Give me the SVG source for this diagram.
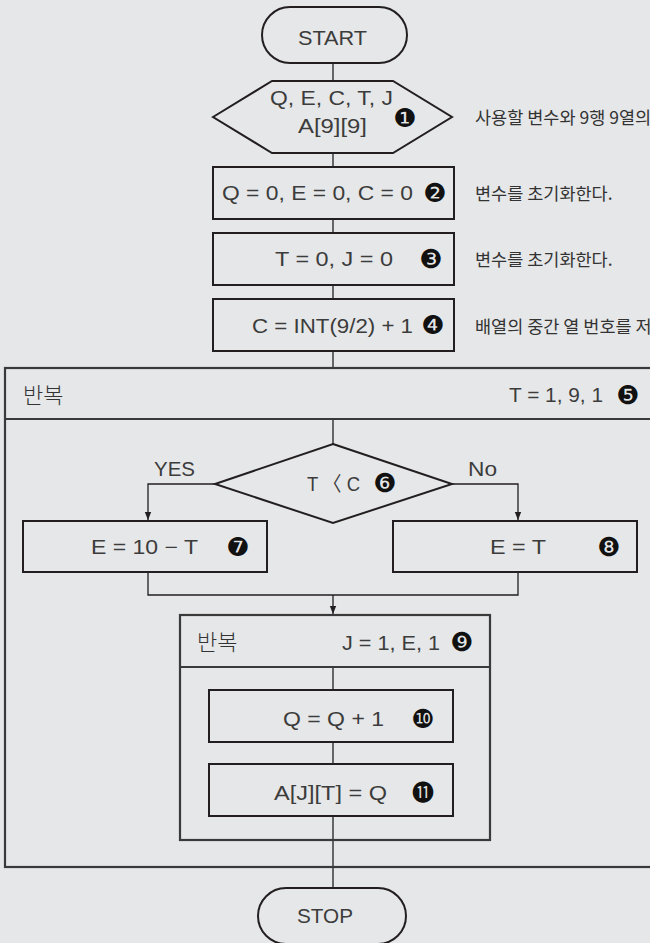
<svg xmlns="http://www.w3.org/2000/svg" width="650" height="943" viewBox="0 0 650 943">
<defs>
<marker id="ah" markerWidth="8" markerHeight="9" refX="8" refY="4" orient="auto" markerUnits="userSpaceOnUse" viewBox="0 0 8 8">
<path d="M0,0.8 L8,4 L0,7.2 Z" fill="#231f20"/>
</marker>
<style>
.bg{fill:#e6e7e8}
.box{fill:none;stroke:#231f20;stroke-width:2}
.loop{fill:none;stroke:#3a3a3a;stroke-width:2.2}
.con{fill:none;stroke:#231f20;stroke-width:1.3}
.t{font-family:"Liberation Sans","Noto Sans CJK KR",sans-serif;fill:#3c3c3c;font-size:20px}
.k{font-family:"Noto Sans CJK KR","Liberation Sans",sans-serif;fill:#333;font-size:22px;font-weight:300}
.note{font-family:"Noto Sans CJK KR","Liberation Sans",sans-serif;fill:#333;font-size:17.5px}
.n{font-family:"DejaVu Sans","Noto Sans CJK KR",sans-serif;fill:#111;font-size:26px;text-anchor:middle}
.n2{font-family:"DejaVu Sans","Noto Sans CJK KR",sans-serif;fill:#111;font-size:22px;text-anchor:middle}
</style>
</defs>
<rect class="bg" x="0" y="0" width="650" height="943"/>

<g id="connectors">
<line class="con" x1="333" y1="63" x2="333" y2="81"/>
<line class="con" x1="333" y1="153" x2="333" y2="167"/>
<line class="con" x1="333" y1="219" x2="333" y2="233"/>
<line class="con" x1="333" y1="285" x2="333" y2="299"/>
<line class="con" x1="333" y1="351" x2="333" y2="368"/>
<line class="con" x1="333" y1="419" x2="333" y2="444"/>
<polyline class="con" points="215,484 148,484 148,520" marker-end="url(#ah)"/>
<polyline class="con" points="452,484 518,484 518,520" marker-end="url(#ah)"/>
<polyline class="con" points="148,572 148,595 518,595 518,572"/>
<line class="con" x1="333" y1="595" x2="333" y2="614" marker-end="url(#ah)"/>
<line class="con" x1="333" y1="667" x2="333" y2="690"/>
<line class="con" x1="333" y1="742" x2="333" y2="764"/>
<line class="con" x1="333" y1="816" x2="333" y2="888"/>
</g>

<g id="start">
<rect class="box" x="262" y="7" width="145" height="56" rx="28" ry="28"/>
<text class="t" x="298" y="45" font-size="23" textLength="69" lengthAdjust="spacingAndGlyphs">START</text>
</g>

<g id="declare">
<polygon class="box" points="213,117 272,81 393,81 452,117 393,153 272,153"/>
<text class="t" x="270" y="105" font-size="21" textLength="123" lengthAdjust="spacingAndGlyphs">Q, E, C, T, J</text>
<text class="t" x="298" y="133" font-size="21" textLength="69" lengthAdjust="spacingAndGlyphs">A[9][9]</text>
<text class="n" x="405" y="127">❶</text>
<text class="note" x="475" y="124">사용할 변수와 9행 9열의</text>
</g>

<g id="init1">
<rect class="box" x="213" y="167" width="241" height="52"/>
<text class="t" x="222" y="200" textLength="191" lengthAdjust="spacingAndGlyphs">Q = 0, E = 0, C = 0</text>
<text class="n" x="435" y="202">❷</text>
<text class="note" x="475" y="200">변수를 초기화한다.</text>
</g>

<g id="init2">
<rect class="box" x="213" y="233" width="241" height="52"/>
<text class="t" x="275" y="266" textLength="118" lengthAdjust="spacingAndGlyphs">T = 0, J = 0</text>
<text class="n" x="431" y="268">❸</text>
<text class="note" x="475" y="266">변수를 초기화한다.</text>
</g>

<g id="mid">
<rect class="box" x="213" y="299" width="241" height="52"/>
<text class="t" x="252" y="333" textLength="161" lengthAdjust="spacingAndGlyphs">C = INT(9/2) + 1</text>
<text class="n" x="433" y="334">❹</text>
<text class="note" x="475" y="333">배열의 중간 열 번호를 저</text>
</g>

<g id="outer-loop">
<rect class="loop" x="5" y="368" width="670" height="499"/>
<line class="loop" x1="5" y1="419" x2="675" y2="419"/>
<text class="k" x="23" y="403">반복</text>
<text class="t" x="509" y="402" textLength="94" lengthAdjust="spacingAndGlyphs">T = 1, 9, 1</text>
<text class="n" x="628" y="404">❺</text>
</g>

<g id="decision">
<polygon class="box" points="333,444 452,484 333,523 215,484"/>
<text class="t" x="307" y="491" textLength="53" lengthAdjust="spacingAndGlyphs">T 〈 C</text>
<text class="n" x="385" y="492">❻</text>
<text class="t" x="154" y="476" font-size="17" textLength="41" lengthAdjust="spacingAndGlyphs">YES</text>
<text class="t" x="468" y="476" font-size="17" textLength="29" lengthAdjust="spacingAndGlyphs">No</text>
</g>

<g id="yes-box">
<rect class="box" x="23" y="521" width="244" height="51"/>
<text class="t" x="91" y="554" textLength="107" lengthAdjust="spacingAndGlyphs">E = 10 − T</text>
<text class="n" x="238" y="556">❼</text>
</g>

<g id="no-box">
<rect class="box" x="393" y="521" width="244" height="51"/>
<text class="t" x="490" y="554" textLength="56" lengthAdjust="spacingAndGlyphs">E = T</text>
<text class="n" x="609" y="556">❽</text>
</g>

<g id="inner-loop">
<rect class="loop" x="180" y="615" width="310" height="225"/>
<line class="loop" x1="180" y1="667" x2="490" y2="667"/>
<text class="k" x="197" y="650">반복</text>
<text class="t" x="342" y="650" textLength="98" lengthAdjust="spacingAndGlyphs">J = 1, E, 1</text>
<text class="n" x="462" y="651">❾</text>
</g>

<g id="inc">
<rect class="box" x="209" y="690" width="244" height="52"/>
<text class="t" x="283" y="726" textLength="101" lengthAdjust="spacingAndGlyphs">Q = Q + 1</text>
<text class="n" x="423" y="728" font-size="31">❿</text>
</g>

<g id="assign">
<rect class="box" x="209" y="764" width="244" height="52"/>
<text class="t" x="274" y="800" textLength="113" lengthAdjust="spacingAndGlyphs">A[J][T] = Q</text>
<text class="n2" x="423" y="800">⓫</text>
</g>

<g id="stop">
<rect class="box" x="258" y="888" width="148" height="56" rx="28" ry="28"/>
<text class="t" x="297" y="923" font-size="21" textLength="56" lengthAdjust="spacingAndGlyphs">STOP</text>
</g>
</svg>
